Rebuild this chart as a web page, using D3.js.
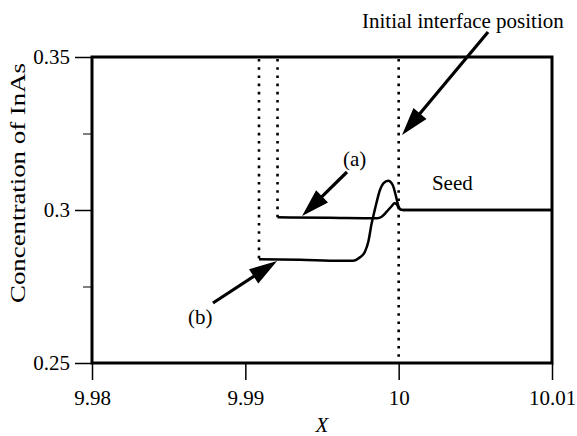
<!DOCTYPE html>
<html>
<head>
<meta charset="utf-8">
<script src="https://cdn.jsdelivr.net/npm/d3@7"></script>
<style>
  html, body { margin: 0; padding: 0; background: #fff; }
  text { font-family: "Liberation Serif", "Times New Roman", Times, serif; fill: #000; }
</style>
</head>
<body>
<svg id="chart" width="577" height="436"></svg>
<script>
// ---------- data ----------
const xTicks = [9.98, 9.99, 10, 10.01];
const xTickLabels = ["9.98", "9.99", "10", "10.01"];
const yTicks = [0.25, 0.3, 0.35];
const yTickLabels = ["0.25", "0.3", "0.35"];
const yMinorTicks = [0.275, 0.325];

// curve (a)
const curveAX = [9.9921, 9.9955, 9.9986, 9.99889, 9.99922, 9.99955, 9.99972, 9.99987, 9.99998, 10.0001, 10.0003, 10.01];
const curveAY = [0.2976, 0.29745, 0.2973, 0.29781, 0.29944, 0.30131, 0.30219, 0.30186, 0.30088, 0.30023, 0.3, 0.3];
// curve (b)
const curveBX = [9.99089, 9.99357, 9.99617, 9.99702, 9.99748, 9.9978, 9.99802, 9.99824, 9.99839, 9.99857, 9.99878, 9.999, 9.99932, 9.99961, 9.99983, 9.99998, 10.0001, 10.0003, 10.01];
const curveBY = [0.2839, 0.28373, 0.28343, 0.28343, 0.28454, 0.28637, 0.28964, 0.29565, 0.29892, 0.30271, 0.30653, 0.30873, 0.30958, 0.30817, 0.30435, 0.30131, 0.30023, 0.3, 0.3];

// dotted verticals: x position, lower end
const dotX = [9.99089, 9.9921, 10.0];
const dotBottom = [0.2839, 0.2976, 0.25];

// annotations
const arrowFromX = [10.00583, 9.99663, 9.98789];
const arrowFromY = [0.35817, 0.31242, 0.26961];
const arrowToX = [10.00022, 9.9937, 9.99207];
const arrowToY = [0.32451, 0.29804, 0.28333];
const labelTexts = ["Initial interface position", "(a)", "(b)", "Seed"];
const labelX = [9.99761, 9.99637, 9.98626, 10.00217];
const labelY = [0.35948, 0.31438, 0.26275, 0.30654];

// ---------- layout ----------
const FONT = '"Liberation Serif", "Times New Roman", Times, serif';
const svg = d3.select("#chart");
const L = 92, R = 552, T = 57, B = 363;
const x = d3.scaleLinear().domain([9.98, 10.01]).range([L, R]);
const y = d3.scaleLinear().domain([0.25, 0.35]).range([B, T]);

// dotted lines
dotX.forEach((dx, i) => {
  svg.append("line")
    .attr("x1", x(dx)).attr("x2", x(dx))
    .attr("y1", y(0.35) + 2).attr("y2", y(dotBottom[i]))
    .attr("stroke", "#000").attr("stroke-width", 2.6)
    .attr("stroke-dasharray", "2.6,5.6");
});

// curves
const line = d3.line().x(d => x(d[0])).y(d => y(d[1])).curve(d3.curveMonotoneX);
[[curveAX, curveAY], [curveBX, curveBY]].forEach(([xs, ys]) => {
  svg.append("path")
    .attr("d", line(xs.map((v, i) => [v, ys[i]])))
    .attr("fill", "none").attr("stroke", "#000").attr("stroke-width", 2.5)
    .attr("stroke-linejoin", "round");
});

// axes
const xAxis = d3.axisBottom(x).tickValues(xTicks)
  .tickFormat((d, i) => xTickLabels[i]).tickSize(17).tickSizeOuter(0).tickPadding(10);
const gx = svg.append("g").attr("transform", `translate(0,${B})`).call(xAxis)
  .attr("font-family", FONT).attr("font-size", 21);
gx.select(".domain").remove();
gx.selectAll("line").attr("stroke-width", 1.5);

const yAxis = d3.axisLeft(y).tickValues(yTicks)
  .tickFormat((d, i) => yTickLabels[i]).tickSize(17).tickSizeOuter(0).tickPadding(5);
const gy = svg.append("g").attr("transform", `translate(${L},0)`).call(yAxis)
  .attr("font-family", FONT).attr("font-size", 21);
gy.select(".domain").remove();
gy.selectAll("line").attr("stroke-width", 1.5);

const yMinor = d3.axisLeft(y).tickValues(yMinorTicks).tickFormat("").tickSize(9).tickSizeOuter(0);
const gym = svg.append("g").attr("transform", `translate(${L},0)`).call(yMinor);
gym.select(".domain").remove();
gym.selectAll("line").attr("stroke-width", 1);

// frame
svg.append("rect")
  .attr("x", L).attr("y", T).attr("width", R - L).attr("height", B - T)
  .attr("fill", "none").attr("stroke", "#000").attr("stroke-width", 3);

// axis titles
svg.append("text")
  .attr("x", (L + R) / 2).attr("y", 432)
  .attr("text-anchor", "middle")
  .style("font-size", "21px").style("font-style", "italic")
  .text("X");

svg.append("text")
  .attr("transform", `translate(25,${(T + B) / 2 - 27}) rotate(-90)`)
  .attr("text-anchor", "middle")
  .attr("textLength", 240).attr("lengthAdjust", "spacingAndGlyphs")
  .style("font-size", "22px")
  .text("Concentration of InAs");

// arrows
arrowFromX.forEach((fx, i) => {
  const x1 = x(fx), y1 = y(arrowFromY[i]);
  const x2 = x(arrowToX[i]), y2 = y(arrowToY[i]);
  const dx = x2 - x1, dy = y2 - y1, len = Math.hypot(dx, dy);
  const ux = dx / len, uy = dy / len;
  const hl = 28, hw = 8.5;
  const bx = x2 - ux * hl, by = y2 - uy * hl;
  svg.append("line")
    .attr("x1", x1).attr("y1", y1).attr("x2", bx + ux * 2).attr("y2", by + uy * 2)
    .attr("stroke", "#000").attr("stroke-width", 3.2);
  svg.append("polygon")
    .attr("points", [[x2, y2], [bx - uy * hw, by + ux * hw], [bx + uy * hw, by - ux * hw]].map(p => p.join(",")).join(" "))
    .attr("fill", "#000");
});

// labels
labelTexts.forEach((t, i) => {
  svg.append("text")
    .attr("x", x(labelX[i])).attr("y", y(labelY[i]))
    .style("font-size", "21px")
    .text(t);
});
</script>
</body>
</html>
